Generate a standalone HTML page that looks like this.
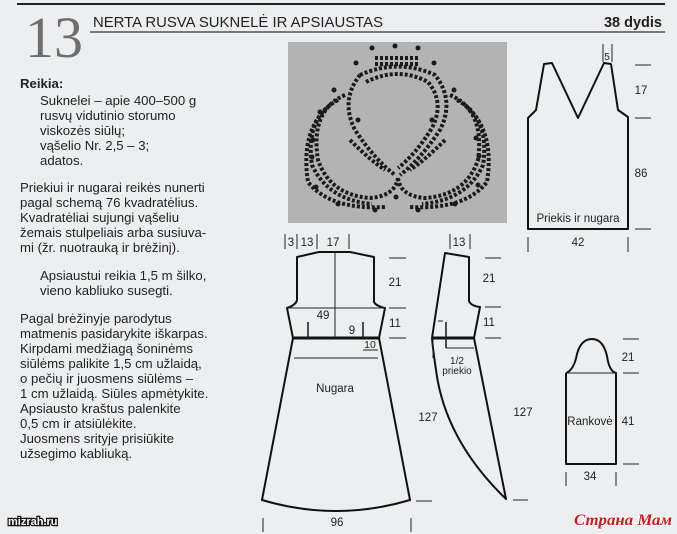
<!DOCTYPE html>
<html><head><meta charset="utf-8"><style>
html,body{margin:0;padding:0;background:#eceef0}
svg{display:block}
text{font-family:"Liberation Sans",sans-serif;fill:#222}
</style></head><body>
<svg width="677" height="534" viewBox="0 0 677 534" xmlns="http://www.w3.org/2000/svg">
<rect width="677" height="534" fill="#eceef0"/>
<!-- header -->
<line x1="17" y1="4" x2="665" y2="4" stroke="#222" stroke-width="2"/>
<text x="25" y="57" font-size="58" style="font-family:'Liberation Serif',serif;fill:#6e6e6e">13</text>
<text x="93" y="27" font-size="14.5" textLength="290" lengthAdjust="spacingAndGlyphs">NERTA RUSVA SUKNELĖ IR APSIAUSTAS</text>
<text x="662" y="27" font-size="14.5" font-weight="bold" text-anchor="end">38 dydis</text>
<line x1="90" y1="32" x2="665" y2="32" stroke="#333" stroke-width="1.2"/>
<!-- left text -->
<g font-size="13.2">
<text x="20" y="88" font-weight="bold">Reikia:</text>
<text x="40" y="105">Suknelei – apie 400–500 g</text>
<text x="40" y="120">rusvų vidutinio storumo</text>
<text x="40" y="135">viskozės siūlų;</text>
<text x="40" y="150">vąšelio Nr. 2,5 – 3;</text>
<text x="40" y="165">adatos.</text>
<text x="20" y="192">Priekiui ir nugarai reikės nunerti</text>
<text x="20" y="207">pagal schemą 76 kvadratėlius.</text>
<text x="20" y="222">Kvadratėliai sujungi vąšeliu</text>
<text x="20" y="237">žemais stulpeliais arba susiuva-</text>
<text x="20" y="252">mi (žr. nuotrauką ir brėžinį).</text>
<text x="40" y="280">Apsiaustui reikia 1,5 m šilko,</text>
<text x="40" y="295">vieno kabliuko susegti.</text>
<text x="20" y="323">Pagal brėžinyje parodytus</text>
<text x="20" y="338">matmenis pasidarykite iškarpas.</text>
<text x="20" y="353">Kirpdami medžiagą šoninėms</text>
<text x="20" y="368">siūlėms palikite 1,5 cm užlaidą,</text>
<text x="20" y="383">o pečių ir juosmens siūlėms –</text>
<text x="20" y="398">1 cm užlaidą. Siūles apmėtykite.</text>
<text x="20" y="413">Apsiausto kraštus palenkite</text>
<text x="20" y="428">0,5 cm ir atsiūlėkite.</text>
<text x="20" y="443">Juosmens srityje prisiūkite</text>
<text x="20" y="458">užsegimo kabliuką.</text>
</g>
<text x="8" y="525" font-size="11" font-weight="bold" style="fill:#fff;stroke:#111;stroke-width:2.5;paint-order:stroke">mizrah.ru</text>
<!-- photo -->
<rect x="288" y="42" width="219" height="181" fill="#b3b3b3"/>
<g fill="none" stroke="#1a1a1a" stroke-width="4" stroke-dasharray="3 2">
<path d="M375,58 L420,58"/><path d="M375,64 L420,64"/>
<path d="M360,75 Q398,58 435,75 Q455,100 440,130 Q420,160 400,175"/>
<path d="M366,82 Q398,66 428,82 Q445,102 432,128 Q415,155 398,168"/>
<path d="M360,75 Q340,100 355,130 Q375,160 395,175"/>
<path d="M345,95 Q310,110 318,160 Q330,195 370,198 Q395,196 398,178"/>
<path d="M450,95 Q485,110 478,160 Q466,195 425,198 Q400,196 398,178"/>
<path d="M338,100 Q305,118 312,165 Q328,200 372,204"/>
<path d="M457,100 Q490,118 483,165 Q467,200 422,204"/>
<path d="M330,105 Q300,130 308,182 Q330,210 385,207"/>
<path d="M465,105 Q495,130 487,182 Q465,210 410,207"/>
<path d="M350,140 Q370,160 385,170"/><path d="M445,140 Q425,160 410,170"/>
</g>
<g fill="#1a1a1a">
<circle cx="372" cy="48" r="2.5"/><circle cx="395" cy="46" r="2.5"/><circle cx="418" cy="48" r="2.5"/>
<circle cx="356" cy="63" r="2.5"/><circle cx="434" cy="63" r="2.5"/>
<circle cx="334" cy="90" r="2.5"/><circle cx="454" cy="90" r="2.5"/>
<circle cx="320" cy="112" r="2.5"/><circle cx="470" cy="110" r="2.5"/>
<circle cx="313" cy="140" r="2.5"/><circle cx="476" cy="138" r="2.5"/>
<circle cx="312" cy="157" r="2.5"/><circle cx="479" cy="156" r="2.5"/>
<circle cx="316" cy="187" r="2.5"/><circle cx="478" cy="185" r="2.5"/>
<circle cx="338" cy="204" r="2.5"/><circle cx="396" cy="197" r="2.5"/><circle cx="455" cy="204" r="2.5"/>
<circle cx="375" cy="210" r="2.5"/><circle cx="418" cy="210" r="2.5"/>
<circle cx="358" cy="120" r="2.5"/><circle cx="432" cy="120" r="2.5"/>
</g>
<g fill="none" stroke="#111" stroke-linejoin="round">
<path d="M528,118 L536,110 L544,64 L552,63 L578,118 L604,63 L611,64 L618,110 L628,117 L628,229 L528,229 Z" stroke-width="2"/>
<path d="M297,257 L319,252 L350,252 L374,257 L374,302 Q376,306 385,308 L379,338 L410,500 Q336,522 262,500 L293,338 L287,308 Q296,305 297,300 Z" stroke-width="2"/>
<line x1="293" y1="338" x2="379" y2="338" stroke-width="3"/>
<path d="M445,253 L469,257 L469,301 Q471,306 480,307 L474,338 L506,499 Q445,440 436,370 Q433,350 432,338 Z" stroke-width="2"/>
<line x1="432" y1="338" x2="474" y2="338" stroke-width="3"/>
<path d="M566,373 L566,464 L616,464 L616,373 Q609,371 607,356 Q603,339 592,339 Q581,339 577,354 Q574,370 566,373" stroke-width="2"/>
</g>
<g stroke="#222" stroke-width="1" fill="none">
<line x1="335" y1="253" x2="335" y2="338"/>
<line x1="287" y1="308" x2="385" y2="308"/>
<line x1="308" y1="322" x2="308" y2="338" stroke-width="1.6"/>
<line x1="363" y1="322" x2="363" y2="338" stroke-width="1.6"/>
<line x1="363" y1="350" x2="378" y2="350"/>
<line x1="294" y1="358" x2="378" y2="358"/>
<line x1="285" y1="234" x2="285" y2="249"/><line x1="297" y1="234" x2="297" y2="249"/><line x1="317" y1="234" x2="317" y2="249"/><line x1="349" y1="234" x2="349" y2="249"/>
<line x1="389" y1="258" x2="406" y2="258"/><line x1="389" y1="308" x2="406" y2="308"/><line x1="389" y1="338" x2="406" y2="338"/><line x1="416" y1="501" x2="432" y2="501"/>
<line x1="263" y1="518" x2="263" y2="532"/><line x1="411" y1="518" x2="411" y2="532"/>
<line x1="446" y1="322" x2="446" y2="348" stroke-width="1.6"/>
<line x1="438" y1="321" x2="443" y2="321"/>
<line x1="446" y1="348" x2="474" y2="348"/>
<line x1="433" y1="338" x2="433" y2="358"/>
<line x1="450" y1="234" x2="450" y2="249"/><line x1="470" y1="234" x2="470" y2="249"/>
<line x1="485" y1="258" x2="501" y2="258"/><line x1="485" y1="307" x2="501" y2="307"/><line x1="485" y1="338" x2="501" y2="338"/><line x1="513" y1="500" x2="528" y2="500"/>
<line x1="603" y1="44" x2="603" y2="62"/><line x1="612" y1="44" x2="612" y2="62"/>
<line x1="635" y1="65" x2="651" y2="65"/><line x1="635" y1="118" x2="651" y2="118"/><line x1="635" y1="229" x2="651" y2="229"/>
<line x1="528" y1="237" x2="528" y2="252"/><line x1="628" y1="237" x2="628" y2="252"/>
<line x1="566" y1="373" x2="616" y2="373"/>
<line x1="623" y1="339" x2="639" y2="339"/><line x1="623" y1="373" x2="639" y2="373"/><line x1="623" y1="464" x2="639" y2="464"/>
<line x1="566" y1="472" x2="566" y2="486"/><line x1="616" y1="472" x2="616" y2="486"/>
</g>
<g font-size="11.5" text-anchor="middle">
<text x="291" y="246">3</text><text x="307" y="246">13</text><text x="333" y="246">17</text>
<text x="323" y="319">49</text><text x="352" y="334">9</text><text x="370" y="348" font-size="10.5">10</text>
<text x="335" y="392">Nugara</text>
<text x="395" y="286">21</text><text x="395" y="327">11</text>
<text x="428" y="421">127</text><text x="337" y="526">96</text>
<text x="459" y="246">13</text>
<text x="489" y="282">21</text><text x="489" y="326">11</text>
<text x="457" y="364" font-size="10">1/2</text><text x="457" y="374" font-size="10">priekio</text>
<text x="523" y="416">127</text>
<text x="607" y="60" font-size="10">5</text>
<text x="641" y="94">17</text><text x="641" y="177">86</text>
<text x="578" y="222">Priekis ir nugara</text><text x="578" y="246">42</text>
<text x="628" y="361">21</text><text x="590" y="425">Rankovė</text><text x="628" y="425">41</text><text x="590" y="480">34</text>
</g>
<text x="574" y="525" font-size="16" font-style="italic" font-weight="bold" textLength="98" lengthAdjust="spacingAndGlyphs" style="font-family:'Liberation Serif',serif;fill:#d01818;stroke:#fff;stroke-width:2;paint-order:stroke">Страна Мам</text>
</svg>
</body></html>
